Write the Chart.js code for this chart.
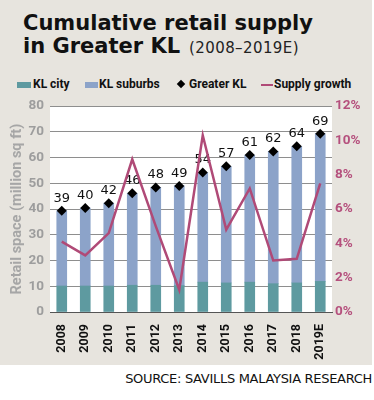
<!DOCTYPE html>
<html>
<head>
<meta charset="utf-8">
<script src="https://cdn.jsdelivr.net/npm/chart.js@4"></script>
<style>
  body { margin: 0; background: #fff; width: 374px; height: 400px; position: relative; overflow: hidden; }
  #panel { position: absolute; left: 0; top: 0; width: 372px; height: 365px; background: #e7e4de; }
  #t1, #t2 { position: absolute; left: 23px; font-family: "DejaVu Sans"; font-weight: bold; font-size: 21px; color: #111; white-space: nowrap; letter-spacing: 0px; line-height: 24px; }
  #t1 { top: 11px; }
  #t2 { top: 34px; }
  #t2 span { font-weight: normal; font-size: 15px; margin-left: 9px; letter-spacing: 0.4px; color: #222; }
  .lg { position: absolute; top: 77px; font-family: Roboto; font-weight: bold; font-size: 12px; color: #111; white-space: nowrap; }
  .sw { position: absolute; }
  #cv { position: absolute; left: 0; top: 92px; }
  #src { position: absolute; right: 2px; top: 371px; font-family: "DejaVu Sans"; font-size: 13px; color: #111; white-space: nowrap; letter-spacing: -0.3px; }
</style>
</head>
<body>
<div id="panel"></div>
<div id="t1">Cumulative retail supply</div>
<div id="t2">in Greater KL<span>(2008–2019E)</span></div>

<div class="sw" style="left:17px;top:82px;width:14px;height:6px;background:#5e9aa0"></div>
<div class="lg" style="left:33px">KL city</div>
<div class="sw" style="left:85px;top:82px;width:13px;height:6px;background:#8ca3c9"></div>
<div class="lg" style="left:99px">KL suburbs</div>
<div class="sw" style="left:178px;top:81px;width:6px;height:6px;background:#000;transform:rotate(45deg)"></div>
<div class="lg" style="left:189px">Greater KL</div>
<div class="sw" style="left:261px;top:84px;width:12px;height:1.5px;background:#b04a77"></div>
<div class="lg" style="left:274px">Supply growth</div>

<canvas id="cv" width="372" height="273"></canvas>
<div id="src">SOURCE: SAVILLS MALAYSIA RESEARCH</div>

<script>
const years = ['2008', '2009', '2010', '2011', '2012', '2013', '2014', '2015', '2016', '2017', '2018', '2019E'];
const greaterKL = [39.3, 40.4, 42.3, 46.1, 48.4, 49.0, 54.2, 56.6, 61.0, 62.4, 64.4, 69.3];
const klCity = [10.1, 10.1, 10.1, 10.4, 10.4, 10.3, 11.6, 11.3, 11.6, 11.0, 11.3, 11.9];
const klSuburbs = greaterKL.map((v, i) => +(v - klCity[i]).toFixed(1));
const supplyGrowth = [4.1, 3.3, 4.6, 8.9, 5.0, 1.3, 10.3, 4.8, 7.2, 3.0, 3.1, 7.5];
const totalLabels = ['39', '40', '42', '46', '48', '49', '54', '57', '61', '62', '64', '69'];

// white plot background
const plotBg = {
    id: 'plotBg',
    beforeDraw(chart) {
        const a = chart.chartArea;
        chart.ctx.save();
        chart.ctx.fillStyle = '#fff';
        chart.ctx.fillRect(a.left, a.top, a.right - a.left, a.bottom - a.top);
        chart.ctx.restore();
    }
};

// value labels above the diamonds
const totalText = {
    id: 'totalText',
    afterDatasetDraw(chart, args) {
        if (args.index !== 2) return;
        const ctx = chart.ctx;
        ctx.save();
        ctx.font = '13px "DejaVu Sans"';
        ctx.fillStyle = '#111';
        ctx.textAlign = 'center';
        ctx.textBaseline = 'bottom';
        args.meta.data.forEach((pt, i) => {
            ctx.fillText(totalLabels[i], pt.x, pt.y - 6);
        });
        ctx.restore();
    }
};

new Chart(document.getElementById('cv'), {
    data: {
        labels: years,
        datasets: [
            { type: 'bar', label: 'KL city', data: klCity, backgroundColor: '#5e9aa0', stack: 's', order: 4, barThickness: 10 },
            { type: 'bar', label: 'KL suburbs', data: klSuburbs, backgroundColor: '#8ca3c9', stack: 's', order: 4, barThickness: 10 },
            { type: 'line', label: 'Greater KL', data: greaterKL, stack: 't', showLine: false, pointStyle: 'rectRot',
              pointRadius: 5, backgroundColor: '#000', borderColor: '#000', borderWidth: 0, order: 3 },
            { type: 'line', label: 'Supply growth', data: supplyGrowth, yAxisID: 'y1', borderColor: '#b04a77',
              borderWidth: 2.5, pointRadius: 0, tension: 0, fill: false, order: 2 }
        ]
    },
    options: {
        responsive: false,
        animation: false,
        layout: { padding: { top: 11, left: 0, right: 0, bottom: 0 } },
        plugins: { legend: { display: false }, tooltip: { enabled: false } },
        scales: {
            x: {
                stacked: true,
                grid: { display: false },
                border: { color: '#555', width: 1 },
                ticks: { minRotation: 90, maxRotation: 90, color: '#111', padding: 4,
                         font: { family: 'Roboto', weight: 'bold', size: 12.5 } },
                afterFit(s) { s.height = 53; }
            },
            y: {
                stacked: true,
                min: 0, max: 80,
                ticks: { stepSize: 10, color: '#9d9d9d', padding: 6,
                         font: { family: 'Roboto', weight: 'bold', size: 13.5 } },
                grid: { color: '#8e8e8e', drawTicks: false },
                border: { display: false },
                title: { display: true, text: 'Retail space (million sq ft)', color: '#a6a6a6',
                         font: { family: 'Roboto', weight: 'bold', size: 14.5 }, padding: { top: 9, bottom: 0 } },
                afterFit(s) { s.width = 50; }
            },
            y1: {
                position: 'right',
                min: 0, max: 12,
                ticks: { stepSize: 2, color: '#b5507d', padding: 3, callback: v => v + '%',
                         font: { family: 'Roboto', weight: 'bold', size: 13.5 } },
                grid: { display: false, drawTicks: false },
                border: { display: false },
                afterFit(s) { s.width = 40; }
            }
        }
    },
    plugins: [plotBg, totalText]
});
</script>
</body>
</html>
